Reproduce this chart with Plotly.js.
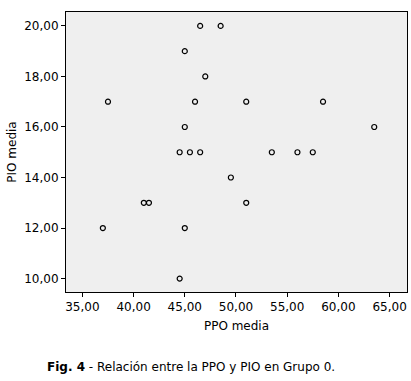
<!DOCTYPE html>
<html>
<head>
<meta charset="utf-8">
<script src="https://cdn.plot.ly/plotly-3.0.1.min.js"></script>
<style>html,body{margin:0;padding:0;background:#fff;}#chart{width:411px;height:381px;}</style>
</head>
<body>
<div id="chart"></div>
<script>
const ppoMedia = [46.5, 48.5, 45, 47, 37.5, 46, 51, 58.5, 45, 63.5, 44.5, 45.5, 46.5, 53.5, 56, 57.5, 49.5, 41, 41.5, 51, 37, 45, 44.5];
const pioMedia = [20, 20, 19, 18, 17, 17, 17, 17, 16, 16, 15, 15, 15, 15, 15, 15, 14, 13, 13, 13, 12, 12, 10];
const xTitle = 'PPO media';
const yTitle = 'PIO media';
const caption = '<b>Fig. 4</b> - Relación entre la PPO y PIO en Grupo 0.';

const font = {family: 'DejaVu Sans, Verdana, sans-serif', size: 12, color: '#000'};

Plotly.newPlot('chart', [{
  x: ppoMedia, y: pioMedia, type: 'scatter', mode: 'markers',
  marker: {symbol: 'circle-open', size: 5, color: '#000', line: {width: 1.2, color: '#000'}},
  hoverinfo: 'none'
}], {
  width: 411, height: 381,
  margin: {l: 66, r: 4, t: 12, b: 89},
  paper_bgcolor: '#fff', plot_bgcolor: '#efefef',
  separators: ',.',
  font: font,
  showlegend: false,
  xaxis: {
    range: [33.4, 66.7], dtick: 5, tick0: 35, tickformat: '.2f',
    showgrid: false, zeroline: false, showline: true, mirror: true,
    linecolor: '#000', linewidth: 1, ticks: 'outside', ticklen: 4, tickcolor: '#000',
    tickfont: font,
    title: {text: xTitle, font: font, standoff: 8}
  },
  yaxis: {
    range: [9.47, 20.55], dtick: 2, tick0: 10, tickformat: '.2f',
    showgrid: false, zeroline: false, showline: true, mirror: true,
    linecolor: '#000', linewidth: 1, ticks: 'outside', ticklen: 4, tickcolor: '#000',
    tickfont: font,
    title: {text: yTitle, font: font, standoff: 5}
  },
  annotations: [{
    text: caption, xref: 'paper', yref: 'paper',
    x: (191 - 66) / 341, y: -(367 - 292) / 280, xanchor: 'center', yanchor: 'middle',
    showarrow: false, font: {family: 'DejaVu Sans, Verdana, sans-serif', size: 12, color: '#000'}
  }]
}, {displayModeBar: false, staticPlot: true});
</script>
</body>
</html>
